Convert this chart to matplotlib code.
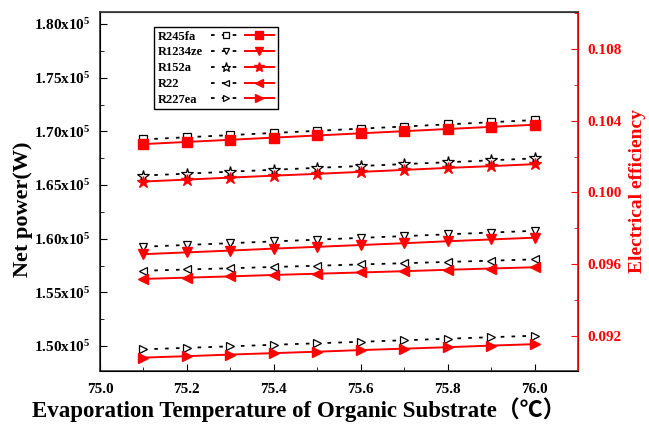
import numpy as np
import matplotlib
matplotlib.use('Agg')
from matplotlib import pyplot as plt
from matplotlib.ticker import MultipleLocator, FuncFormatter
from matplotlib.legend_handler import HandlerTuple

plt.rcParams['font.family'] = ['Liberation Serif', 'Noto Sans CJK SC']
plt.rcParams['font.weight'] = 'bold'
plt.rcParams['mathtext.fontset'] = 'custom'
plt.rcParams['mathtext.rm'] = 'Liberation Serif:bold'
plt.rcParams['mathtext.bf'] = 'Liberation Serif:bold'
plt.rcParams['mathtext.default'] = 'bf'

# evaporation temperature (C)
temps = [75.1, 75.2, 75.3, 75.4, 75.5, 75.6, 75.7, 75.8, 75.9, 76.0]

fluids = ['R245fa', 'R1234ze', 'R152a', 'R22', 'R227ea']
markers = ['s', 'v', '*', '<', '>']

# net power (W)
power_r245fa = [169250, 169450, 169650, 169850, 170050, 170250, 170450, 170650, 170850, 171050]
power_r1234ze = [159250, 159415, 159580, 159745, 159910, 160075, 160240, 160405, 160570, 160735]
power_r152a = [165880, 166060, 166240, 166420, 166600, 166770, 166950, 167120, 167300, 167480]
power_r22 = [157010, 157130, 157245, 157365, 157480, 157600, 157715, 157835, 157950, 158070]
power_r227ea = [149690, 149830, 149970, 150115, 150255, 150395, 150535, 150680, 150820, 150960]

# electrical efficiency
eff_r245fa = [0.10270, 0.10282, 0.10294, 0.10306, 0.10318, 0.10330, 0.10342, 0.10354, 0.10366, 0.10378]
eff_r1234ze = [0.09656, 0.09666, 0.09676, 0.09687, 0.09697, 0.09707, 0.09717, 0.09728, 0.09738, 0.09748]
eff_r152a = [0.10061, 0.10072, 0.10083, 0.10094, 0.10104, 0.10115, 0.10126, 0.10137, 0.10147, 0.10158]
eff_r22 = [0.09518, 0.09525, 0.09532, 0.09540, 0.09547, 0.09554, 0.09561, 0.09569, 0.09576, 0.09583]
eff_r227ea = [0.09079, 0.09087, 0.09096, 0.09104, 0.09112, 0.09121, 0.09129, 0.09137, 0.09146, 0.09154]

powers = [power_r245fa, power_r1234ze, power_r152a, power_r22, power_r227ea]
effs = [eff_r245fa, eff_r1234ze, eff_r152a, eff_r22, eff_r227ea]

fig = plt.figure(figsize=(6.49, 4.24), dpi=100)
ax = fig.add_axes([100/649, 1-370.7/424, 478/649, 358.4/424])
ax2 = ax.twinx()

handles = []
for name, mk, p, e in zip(fluids, markers, powers, effs):
    ms = 8.5 if mk == '*' else 6
    h1, = ax.plot(temps, p, color='black', linestyle=(0, (2, 4)), linewidth=1.3,
                  marker=mk, markersize=ms, markerfacecolor='white',
                  markeredgecolor='black', markeredgewidth=0.9)
    h2, = ax2.plot(temps, e, color='red', linestyle='-', linewidth=1.4,
                   marker=mk, markersize=ms + 0.5, markerfacecolor='red',
                   markeredgecolor='red')
    handles.append((h1, h2))

ax.set_xlim(75.0, 76.1)
ax.set_ylim(147700, 181090)
ax2.set_ylim(0.09006, 0.11005)

ax.xaxis.set_major_locator(MultipleLocator(0.2))
ax.xaxis.set_minor_locator(MultipleLocator(0.1))
ax.xaxis.set_major_formatter(FuncFormatter(lambda v, pos: f'{v:.1f}'))
ax.yaxis.set_major_locator(MultipleLocator(5000))
ax.yaxis.set_minor_locator(MultipleLocator(2500))
ax.yaxis.set_major_formatter(FuncFormatter(lambda v, pos: f'{v/1e5:.2f}x10$^{{5}}$'))
ax2.yaxis.set_major_locator(MultipleLocator(0.004))
ax2.yaxis.set_minor_locator(MultipleLocator(0.002))
ax2.yaxis.set_major_formatter(FuncFormatter(lambda v, pos: f'{v:.3f}'))

ax.tick_params(axis='both', which='both', direction='in', labelsize=11, top=False, right=False)
ax.tick_params(which='major', length=5)
ax.tick_params(which='minor', length=3)
ax.tick_params(axis='x', pad=9)
ax.tick_params(axis='y', pad=7)
ax2.tick_params(axis='y', which='both', direction='in', labelsize=11, colors='red', pad=7)
ax2.tick_params(which='major', length=5)
ax2.tick_params(which='minor', length=3)

for s in ['left', 'bottom', 'top']:
    ax.spines[s].set_color('#333333')
    ax.spines[s].set_linewidth(1.2)
ax2.spines['right'].set_color('red')
ax2.spines['right'].set_linewidth(1.2)
ax2.spines['top'].set_color('#333333')

ax.set_xlabel('Evaporation Temperature of Organic Substrate（℃）', fontsize=16.5,
              fontweight='bold')
ax.xaxis.set_label_coords(0.415, -0.075)
ax.set_ylabel('Net power(W)', fontsize=16, fontweight='bold')
ax.yaxis.set_label_coords(-0.14, 0.45)
ax2.set_ylabel('Electrical efficiency', fontsize=14, fontweight='bold', color='red', labelpad=5)

leg = ax.legend(handles, fluids, handler_map={tuple: HandlerTuple(ndivide=None, pad=0.4)},
                loc='upper left', bbox_to_anchor=(0.113, 0.959), borderaxespad=0,
                markerfirst=False, handlelength=5.0, handletextpad=0.5, markerscale=0.8,
                prop={'size': 9, 'weight': 'bold'}, fancybox=False, framealpha=1,
                edgecolor='black', labelspacing=0.3, borderpad=0.3)
leg.get_frame().set_linewidth(1.0)

# left-align the labels while keeping the handles in one column
for col in leg._legend_handle_box.get_children():
    col.width = 116
    for row in col.get_children():
        row.mode = 'expand'

fig.savefig('out.png', dpi=100)
